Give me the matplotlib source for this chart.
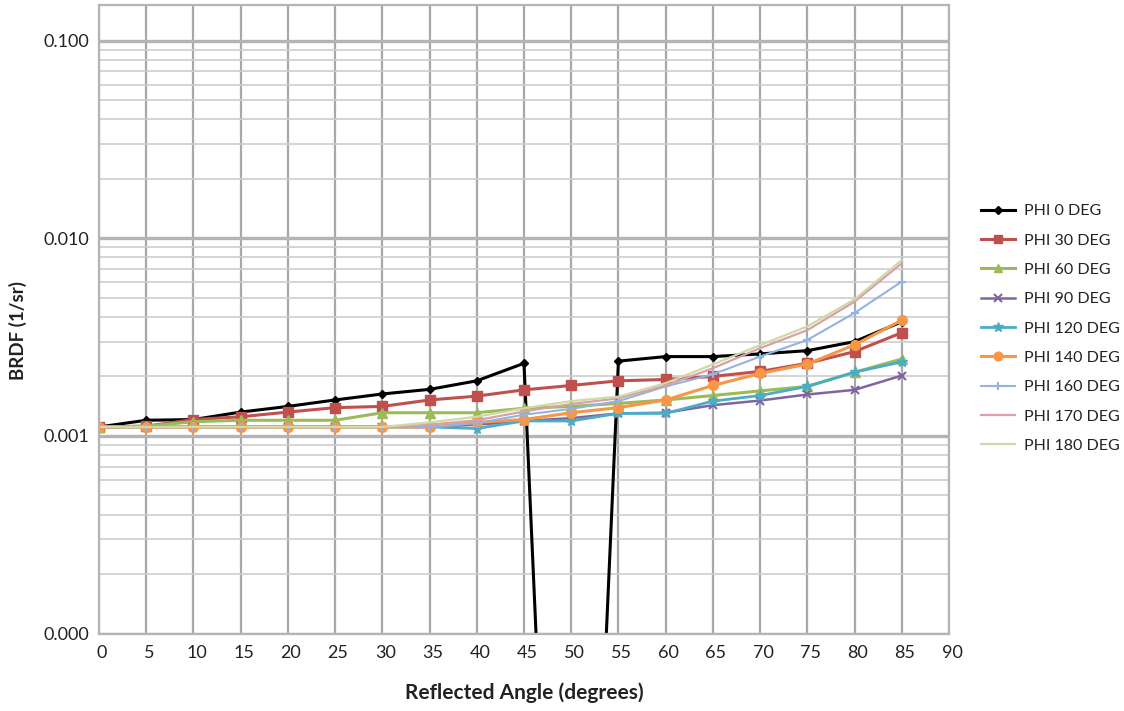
import matplotlib
matplotlib.use("Agg")
import matplotlib.pyplot as plt
import matplotlib.transforms as mtransforms
from matplotlib.ticker import FixedLocator, FuncFormatter, LogLocator, NullFormatter

# ---------------- data ----------------
angles = [0, 5, 10, 15, 20, 25, 30, 35, 40, 45, 50, 55, 60, 65, 70, 75, 80, 85]

phi_0   = [0.00111, 0.00120, 0.00121, 0.00132, 0.00141, 0.00152, 0.00163, 0.00172, 0.00190, 0.00233,
           1e-8, 0.00239, 0.00252, 0.00252, 0.00260, 0.00270, 0.00300, 0.00378]
phi_30  = [0.00111, 0.00112, 0.00121, 0.00125, 0.00132, 0.00139, 0.00141, 0.00152, 0.00159, 0.00171,
           0.00180, 0.00190, 0.00193, 0.00200, 0.00212, 0.00233, 0.00267, 0.00333]
phi_60  = [0.00111, 0.00112, 0.00118, 0.00120, 0.00120, 0.00120, 0.00131, 0.00131, 0.00131, 0.00138,
           0.00141, 0.00146, 0.00152, 0.00160, 0.00169, 0.00178, 0.00210, 0.00245]
phi_90  = [0.00111, 0.00111, 0.00111, 0.00111, 0.00111, 0.00111, 0.00111, 0.00111, 0.00114, 0.00119,
           0.00123, 0.00130, 0.00131, 0.00143, 0.00151, 0.00162, 0.00171, 0.00202]
phi_120 = [0.00111, 0.00111, 0.00111, 0.00111, 0.00111, 0.00111, 0.00111, 0.00111, 0.00109, 0.00119,
           0.00119, 0.00130, 0.00130, 0.00150, 0.00160, 0.00178, 0.00210, 0.00237]
phi_140 = [0.00111, 0.00111, 0.00111, 0.00111, 0.00111, 0.00111, 0.00111, 0.00111, 0.00117, 0.00121,
           0.00131, 0.00139, 0.00152, 0.00180, 0.00207, 0.00231, 0.00289, 0.00385]
phi_160 = [0.00111, 0.00111, 0.00111, 0.00111, 0.00111, 0.00111, 0.00111, 0.00111, 0.00116, 0.00128,
           0.00137, 0.00150, 0.00178, 0.00205, 0.00252, 0.00306, 0.00419, 0.00604]
phi_170 = [0.00111, 0.00111, 0.00111, 0.00111, 0.00111, 0.00111, 0.00111, 0.00114, 0.00120, 0.00133,
           0.00145, 0.00155, 0.00180, 0.00220, 0.00278, 0.00343, 0.00478, 0.00747]
phi_180 = [0.00111, 0.00111, 0.00111, 0.00111, 0.00111, 0.00111, 0.00111, 0.00117, 0.00125, 0.00138,
           0.00150, 0.00158, 0.00185, 0.00230, 0.00288, 0.00358, 0.00491, 0.00776]

series_labels = ["PHI 0 DEG", "PHI 30 DEG", "PHI 60 DEG", "PHI 90 DEG", "PHI 120 DEG",
                 "PHI 140 DEG", "PHI 160 DEG", "PHI 170 DEG", "PHI 180 DEG"]
series_values = [phi_0, phi_30, phi_60, phi_90, phi_120, phi_140, phi_160, phi_170, phi_180]

x_ticks = list(range(0, 95, 5))
y_ticks = [0.0001, 0.001, 0.01, 0.1]

x_label = "Reflected Angle (degrees)"
y_label = "BRDF (1/sr)"

# ---------------- styles ----------------
colors  = ["#000000", "#C0504D", "#9BBB59", "#8064A2", "#4BACC6", "#F79646",
           "#93B3E0", "#D9A0A8", "#CDDAA6"]
markers = ["D", "s", "^", "x", "*", "o", "+", None, None]
msizes  = [4, 7, 7, 6, 8, 7, 6, 0, 0]
lwidths = [2.2, 2.2, 2.2, 1.8, 2.0, 2.2, 1.5, 1.6, 1.6]

plt.rcParams['font.family'] = ['Lato', 'DejaVu Sans']

fig = plt.figure(figsize=(11.24, 7.11), dpi=100)
ax = fig.add_axes([99/1124, 1 - 633.5/711, (949 - 99)/1124, (633.5 - 5)/711])

for vals, lab, c, m, ms, lw in zip(series_values, series_labels, colors, markers, msizes, lwidths):
    mew = 1.5 if m in ("x", "+") else 1.0
    ax.plot(angles, vals, color=c, lw=lw, marker=m, markersize=ms,
            markeredgecolor=c, markerfacecolor=c, markeredgewidth=mew, label=lab,
            solid_joinstyle='round')

ax.set_yscale('log')
ax.set_xlim(0, 90)
ax.set_ylim(1e-4, 10 ** (-1 + (40.7 - 5) / 197.6))

ax.xaxis.set_major_locator(FixedLocator(x_ticks))
ax.set_xticklabels([str(t) for t in x_ticks])
ax.yaxis.set_major_locator(FixedLocator(y_ticks))
ax.yaxis.set_major_formatter(FuncFormatter(lambda v, p: f"{v:.3f}"))
ax.yaxis.set_minor_locator(LogLocator(base=10, subs=range(2, 10), numticks=20))
ax.yaxis.set_minor_formatter(NullFormatter())

ax.grid(True, axis='x', which='major', color='#A8A8A8', lw=1.6)
ax.grid(True, axis='y', which='major', color='#B4B4B8', lw=2.4)
ax.grid(True, axis='y', which='minor', color='#CDCDCD', lw=1.2)
ax.set_axisbelow(True)

for s in ax.spines.values():
    s.set_color('#B4B4B4')
    s.set_linewidth(1.6)

ax.tick_params(axis='both', which='both', length=0)
ax.tick_params(axis='x', labelsize=13, pad=8, colors='#222222')
ax.tick_params(axis='y', labelsize=13, pad=7, colors='#222222')

offset = mtransforms.ScaledTranslation(3 / 100, 0, fig.dpi_scale_trans)
for lbl in ax.get_xticklabels():
    lbl.set_transform(lbl.get_transform() + offset)

fig.text(524 / 1124, 1 - 693 / 711, x_label, ha='center', va='center',
         fontsize=15, fontweight='bold', color='#222222')
fig.text(18 / 1124, 1 - 330 / 711, y_label, ha='center', va='center', rotation=90,
         fontsize=13.5, fontweight='bold', color='#222222')

leg = fig.legend(loc='center left', bbox_to_anchor=(981 / 1124, 1 - 328.5 / 711),
                 frameon=False, fontsize=11.5, labelspacing=0.95, handlelength=2.1,
                 handletextpad=0.6, borderpad=0, borderaxespad=0, markerscale=0.9)
for t in leg.get_texts():
    t.set_color('#222222')

fig.savefig("out.png", dpi=100)
